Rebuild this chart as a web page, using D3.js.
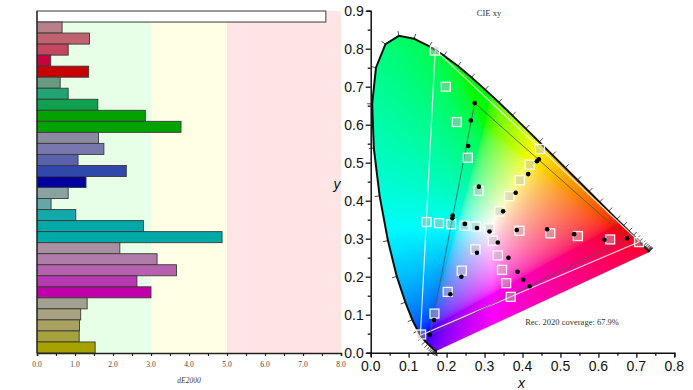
<!DOCTYPE html>
<html>
  <head>
    <meta charset="utf-8">
    <script src="https://d3js.org/d3.v7.min.js"></script>
    <title>dE2000 / CIE xy</title>
    <style type="text/css">
      body { margin: 0; background: #fff; }
      svg { display: block; }
      .serif { font-family: "Liberation Serif", "DejaVu Serif", serif; }
      .sans { font-family: "Liberation Sans", Arial, sans-serif; }
    </style>
  </head>
  <body>
    <div id="chart"></div>
    <script type="text/javascript">
      // ---- left chart: dE2000 per patch ----
      var barValues = [7.6, 0.66, 1.38, 0.82, 0.36, 1.36, 0.61, 0.82, 1.6, 2.85, 3.79,
                       1.62, 1.76, 1.08, 2.35, 1.29, 0.82, 0.37, 1.02, 2.8, 4.87,
                       2.18, 3.16, 3.67, 2.63, 3.0, 1.32, 1.15, 1.12, 1.11, 1.53];
      var barColors = ["#ffffff", "#b8808a", "#c0626f", "#c64660", "#c8003e", "#c80000",
                       "#6a9a80", "#20a474", "#10a050", "#00a300", "#00a300",
                       "#8a8aa0", "#7878ae", "#5a62ae", "#3048aa", "#0000a0",
                       "#8aa2a2", "#62a8a8", "#14a8a8", "#00a8a8", "#00a8a8",
                       "#a890a2", "#b07ca8", "#b860b0", "#b83ab0", "#c000a8",
                       "#a2a090", "#a8a282", "#a8a262", "#a8a23c", "#a8a200"];
      var deTicks = [0, 1, 2, 3, 4, 5, 6, 7, 8];
      var deBands = [[0, 3, "#e6ffe6"], [3, 5, "#ffffe6"], [5, 8, "#ffe5e5"]];

      // ---- right chart: CIE xy ----
      var locusNm = [380, 385, 390, 395, 400, 405, 410, 415, 420, 425, 430, 435, 440, 445, 450,
                     455, 460, 465, 470, 475, 480, 485, 490, 495, 500, 505, 510, 515, 520,
                     525, 530, 535, 540, 545, 550, 555, 560, 565, 570, 575, 580, 585, 590,
                     595, 600, 605, 610, 615, 620, 625, 630, 635, 640, 645, 650, 655, 660,
                     665, 670, 675, 680, 685, 690, 695, 700];
      var locusX = [0.1741, 0.1740, 0.1738, 0.1736, 0.1733, 0.1730, 0.1726, 0.1721, 0.1714, 0.1703,
                    0.1689, 0.1669, 0.1644, 0.1611, 0.1566, 0.1510, 0.1440, 0.1355, 0.1241, 0.1096,
                    0.0913, 0.0687, 0.0454, 0.0235, 0.0082, 0.0039, 0.0139, 0.0389, 0.0743, 0.1142,
                    0.1547, 0.1929, 0.2296, 0.2658, 0.3016, 0.3373, 0.3731, 0.4087, 0.4441, 0.4788,
                    0.5125, 0.5448, 0.5752, 0.6029, 0.6270, 0.6482, 0.6658, 0.6801, 0.6915, 0.7006,
                    0.7079, 0.7140, 0.7190, 0.7230, 0.7260, 0.7283, 0.7300, 0.7311, 0.7320, 0.7327,
                    0.7334, 0.7340, 0.7344, 0.7346, 0.7347];
      var locusY = [0.0050, 0.0050, 0.0049, 0.0049, 0.0048, 0.0048, 0.0048, 0.0048, 0.0051, 0.0058,
                    0.0069, 0.0086, 0.0109, 0.0138, 0.0177, 0.0227, 0.0297, 0.0399, 0.0578, 0.0868,
                    0.1327, 0.2007, 0.2950, 0.4127, 0.5384, 0.6548, 0.7502, 0.8120, 0.8338, 0.8262,
                    0.8059, 0.7816, 0.7543, 0.7243, 0.6923, 0.6589, 0.6245, 0.5896, 0.5547, 0.5202,
                    0.4866, 0.4544, 0.4242, 0.3965, 0.3725, 0.3514, 0.3340, 0.3197, 0.3083, 0.2993,
                    0.2920, 0.2859, 0.2809, 0.2770, 0.2740, 0.2717, 0.2700, 0.2689, 0.2680, 0.2673,
                    0.2666, 0.2660, 0.2656, 0.2654, 0.2653];
      var rec2020X = [0.708, 0.170, 0.131];
      var rec2020Y = [0.292, 0.797, 0.046];
      var displayX = [0.676, 0.274, 0.156];
      var displayY = [0.301, 0.657, 0.047];
      var targetX = [0.169, 0.198, 0.227, 0.256, 0.284, 0.446, 0.419, 0.393, 0.365, 0.339,
                     0.147, 0.180, 0.212, 0.247, 0.277, 0.313, 0.392, 0.473, 0.546, 0.631, 0.707,
                     0.322, 0.276, 0.335, 0.240, 0.346, 0.357, 0.203, 0.369, 0.168, 0.133];
      var targetY = [0.795, 0.700, 0.607, 0.513, 0.426, 0.536, 0.495, 0.454, 0.412, 0.372,
                     0.344, 0.341, 0.338, 0.334, 0.332, 0.327, 0.321, 0.314, 0.307, 0.298, 0.291,
                     0.295, 0.272, 0.256, 0.216, 0.218, 0.183, 0.160, 0.147, 0.103, 0.048];
      var measX = [0.274, 0.264, 0.257, 0.216, 0.215, 0.285, 0.443, 0.438, 0.415, 0.382, 0.349,
                   0.248, 0.280, 0.313, 0.385, 0.465, 0.536, 0.616, 0.676,
                   0.335, 0.280, 0.363, 0.239, 0.387, 0.402, 0.419, 0.210, 0.167, 0.156];
      var measY = [0.657, 0.611, 0.544, 0.361, 0.354, 0.437, 0.509, 0.504, 0.470, 0.421, 0.372,
                   0.339, 0.328, 0.319, 0.323, 0.325, 0.312, 0.297, 0.301,
                   0.290, 0.263, 0.250, 0.200, 0.213, 0.192, 0.175, 0.154, 0.086, 0.047];
      var xyTicksX = [0, 0.1, 0.2, 0.3, 0.4, 0.5, 0.6, 0.7, 0.8];
      var xyTicksY = [0, 0.1, 0.2, 0.3, 0.4, 0.5, 0.6, 0.7, 0.8, 0.9];

      var width = 693, height = 390;
      var svg = d3.select("#chart").append("svg")
          .attr("width", width)
          .attr("height", height);

      // ================= left bar chart =================
      var x = d3.scaleLinear().domain([0, 8]).range([37, 341]);
      var yBand = d3.scaleBand().domain(d3.range(barValues.length)).range([11, 353]).padding(0);

      svg.append("g").selectAll("rect")
        .data(deBands)
        .enter().append("rect")
          .attr("x", function(d) { return x(d[0]); })
          .attr("width", function(d) { return x(d[1]) - x(d[0]); })
          .attr("y", yBand.range()[0])
          .attr("height", yBand.range()[1] - yBand.range()[0])
          .attr("fill", function(d) { return d[2]; });

      svg.append("g").selectAll("rect")
        .data(barValues)
        .enter().append("rect")
          .attr("x", x(0))
          .attr("y", function(d, i) { return yBand(i); })
          .attr("width", function(d) { return x(d) - x(0); })
          .attr("height", yBand.bandwidth())
          .attr("fill", function(d, i) { return barColors[i]; })
          .attr("stroke", function(d, i) { return i === 0 ? "#666" : "#3a3a3a"; })
          .attr("stroke-width", function(d, i) { return i === 0 ? 1.3 : 0.9; });

      var leftAxis = svg.append("g").attr("transform", "translate(0,353)");
      leftAxis.call(d3.axisBottom(x).tickValues(d3.range(0, 8.01, 0.5)).tickSize(3).tickFormat(""))
        .call(function(g) { g.select(".domain").attr("stroke", "#222").attr("stroke-width", 1.5); })
        .call(function(g) { g.selectAll(".tick line").attr("stroke", "#222").attr("stroke-width", 1.2); });
      leftAxis.selectAll(".lbl")
        .data(deTicks)
        .enter().append("text")
          .attr("class", "serif")
          .attr("x", function(d) { return x(d); })
          .attr("y", 14)
          .attr("text-anchor", "middle")
          .attr("font-size", 7.5)
          .attr("fill", "#444")
          .text(function(d) { return d.toFixed(1); });
      svg.append("line")
        .attr("x1", x(0)).attr("x2", x(0))
        .attr("y1", 11).attr("y2", 353)
        .attr("stroke", "#222").attr("stroke-width", 1.2);
      svg.append("text")
        .attr("class", "serif")
        .attr("x", 189).attr("y", 383)
        .attr("text-anchor", "middle")
        .attr("font-size", 7.5)
        .attr("font-style", "italic")
        .attr("fill", "#444")
        .text("dE2000");

      // ================= right CIE chart =================
      var cx = d3.scaleLinear().domain([0, 0.8]).range([370.7, 674.3]);
      var cy = d3.scaleLinear().domain([0, 0.9]).range([352.7, 10.7]);

      var locus = locusNm.map(function(nm, i) { return [locusX[i], locusY[i]]; });
      var locusLine = d3.line().x(function(d) { return cx(d[0]); }).y(function(d) { return cy(d[1]); });

      // chromaticity fill rendered into a canvas, then clipped to the locus
      var x0 = Math.floor(cx(0)), x1 = Math.ceil(cx(0.8)),
          y0 = Math.floor(cy(0.9)), y1 = Math.ceil(cy(0));
      var cw = x1 - x0, ch = y1 - y0;
      var canvas = document.createElement("canvas");
      canvas.width = cw; canvas.height = ch;
      var ctx = canvas.getContext("2d");
      var img = ctx.createImageData(cw, ch);
      function gam(v) { return v <= 0.0031308 ? 12.92 * v : 1.055 * Math.pow(v, 1 / 2.4) - 0.055; }
      for (var py = 0; py < ch; py++) {
        for (var px = 0; px < cw; px++) {
          var xx = cx.invert(x0 + px + 0.5), yy = cy.invert(y0 + py + 0.5);
          if (yy < 0.001) yy = 0.001;
          var X = xx / yy, Y = 1, Z = (1 - xx - yy) / yy;
          var r = 3.2406 * X - 1.5372 * Y - 0.4986 * Z,
              g = -0.9689 * X + 1.8758 * Y + 0.0415 * Z,
              b = 0.0557 * X - 0.2040 * Y + 1.0570 * Z;
          // partly desaturate out-of-gamut colours, then clip
          var mn = Math.min(r, g, b);
          if (mn < 0) { var w = -mn * 0.3; r += w; g += w; b += w; }
          r = Math.max(r, 0); g = Math.max(g, 0); b = Math.max(b, 0);
          var m = Math.max(r, g, b) || 1;
          var k = (py * cw + px) * 4;
          img.data[k] = Math.round(252 * gam(r / m));
          img.data[k + 1] = Math.round(252 * gam(g / m));
          img.data[k + 2] = Math.round(252 * gam(b / m));
          img.data[k + 3] = 255;
        }
      }
      ctx.putImageData(img, 0, 0);

      svg.append("clipPath").attr("id", "locusClip")
        .append("path").attr("d", locusLine(locus) + "Z");
      svg.append("image")
        .attr("x", x0).attr("y", y0)
        .attr("width", cw).attr("height", ch)
        .attr("href", canvas.toDataURL())
        .attr("clip-path", "url(#locusClip)");

      // wavelength ticks along the spectral curve
      var tickG = svg.append("g");
      locus.forEach(function(p, i) {
        var a = locus[Math.max(i - 1, 0)], b = locus[Math.min(i + 1, locus.length - 1)];
        var dx = cx(b[0]) - cx(a[0]), dy = cy(b[1]) - cy(a[1]);
        var len = Math.sqrt(dx * dx + dy * dy) || 1;
        var nx = -dy / len, ny = dx / len;
        if (i < 4 || i > locus.length - 4) return;
        tickG.append("line")
          .attr("x1", cx(p[0])).attr("y1", cy(p[1]))
          .attr("x2", cx(p[0]) - nx * 5).attr("y2", cy(p[1]) - ny * 5)
          .attr("stroke", "#222").attr("stroke-width", 0.8);
      });

      svg.append("path")
        .attr("d", locusLine(locus))
        .attr("fill", "none")
        .attr("stroke", "#111")
        .attr("stroke-width", 2);

      // gamut triangles
      var tri = d3.line().x(function(d) { return cx(d[0]); }).y(function(d) { return cy(d[1]); });
      svg.append("path")
        .attr("d", tri(rec2020X.map(function(v, i) { return [v, rec2020Y[i]]; })) + "Z")
        .attr("fill", "none").attr("stroke", "#ffffff").attr("stroke-width", 1.2).attr("opacity", 0.8);
      svg.append("path")
        .attr("d", tri(displayX.map(function(v, i) { return [v, displayY[i]]; })) + "Z")
        .attr("fill", "none").attr("stroke", "#555").attr("stroke-width", 1).attr("opacity", 0.8);

      // target squares
      svg.append("g").selectAll("rect")
        .data(targetX)
        .enter().append("rect")
          .attr("x", function(d) { return cx(d) - 4.5; })
          .attr("y", function(d, i) { return cy(targetY[i]) - 4.5; })
          .attr("width", 9).attr("height", 9)
          .attr("fill", "rgba(190,190,190,0.45)")
          .attr("stroke", "rgba(255,255,255,0.9)")
          .attr("stroke-width", 1.3);

      // measured points
      svg.append("g").selectAll("circle")
        .data(measX)
        .enter().append("circle")
          .attr("cx", function(d) { return cx(d); })
          .attr("cy", function(d, i) { return cy(measY[i]); })
          .attr("r", 2.3)
          .attr("fill", "#000");

      // axes
      var axX = svg.append("g").attr("transform", "translate(0," + cy(0) + ")")
        .call(d3.axisBottom(cx).tickValues(d3.range(0, 0.801, 0.05)).tickSize(4).tickFormat(""));
      axX.selectAll(".tick line").attr("stroke", "#111").attr("stroke-width", 1.3)
        .attr("y2", function(d, i) { return i % 2 ? 3 : 5; });
      axX.select(".domain").attr("stroke", "#111").attr("stroke-width", 1.5);
      axX.selectAll(".lbl")
        .data(xyTicksX)
        .enter().append("text")
          .attr("class", "sans")
          .attr("x", function(d) { return cx(d); })
          .attr("y", 18)
          .attr("text-anchor", "middle")
          .attr("font-size", 14)
          .attr("fill", "#111")
          .text(function(d) { return d.toFixed(1); });

      var axY = svg.append("g").attr("transform", "translate(" + cx(0) + ",0)")
        .call(d3.axisLeft(cy).tickValues(d3.range(0, 0.901, 0.05)).tickSize(4).tickFormat(""));
      axY.selectAll(".tick line").attr("stroke", "#111").attr("stroke-width", 1.3)
        .attr("x2", function(d, i) { return i % 2 ? -3 : -5; });
      axY.select(".domain").attr("stroke", "#111").attr("stroke-width", 1.5);
      axY.selectAll(".lbl")
        .data(xyTicksY)
        .enter().append("text")
          .attr("class", "sans")
          .attr("x", -7)
          .attr("y", function(d) { return cy(d) + 5; })
          .attr("text-anchor", "end")
          .attr("font-size", 14)
          .attr("fill", "#111")
          .text(function(d) { return d.toFixed(1); });

      svg.append("text")
        .attr("class", "sans")
        .attr("x", cx(0.4) - 1).attr("y", 388)
        .attr("text-anchor", "middle")
        .attr("font-size", 14)
        .attr("font-style", "italic")
        .attr("fill", "#111")
        .text("x");
      svg.append("text")
        .attr("class", "sans")
        .attr("x", 337).attr("y", 189)
        .attr("text-anchor", "middle")
        .attr("font-size", 14)
        .attr("font-style", "italic")
        .attr("fill", "#111")
        .text("y");

      svg.append("text")
        .attr("class", "serif")
        .attr("x", 489).attr("y", 16)
        .attr("text-anchor", "middle")
        .attr("font-size", 8.5)
        .attr("fill", "#333")
        .text("CIE xy");
      svg.append("text")
        .attr("class", "serif")
        .attr("x", 572).attr("y", 325)
        .attr("text-anchor", "middle")
        .attr("font-size", 8.5)
        .attr("fill", "#333")
        .text("Rec. 2020 coverage: 67.9%");
    </script>
  </body>
</html>
